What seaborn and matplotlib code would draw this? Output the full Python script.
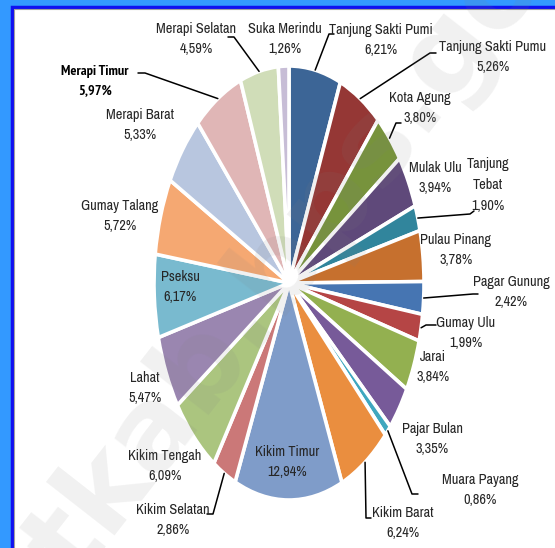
import matplotlib
matplotlib.use("Agg")
import matplotlib.pyplot as plt
from matplotlib import font_manager as fm
import seaborn as sns
import numpy as np
from matplotlib.patches import Rectangle

# ---- data ----
districts = ["Tanjung Sakti Pumi", "Tanjung Sakti Pumu", "Kota Agung", "Mulak Ulu",
             "Tanjung\nTebat", "Pulau Pinang", "Pagar Gunung", "Gumay Ulu", "Jarai",
             "Pajar Bulan", "Muara Payang", "Kikim Barat", "Kikim Timur", "Kikim Selatan",
             "Kikim Tengah", "Lahat", "Pseksu", "Gumay Talang", "Merapi Barat",
             "Merapi Timur", "Merapi Selatan", "Suka Merindu"]
shares = [6.21, 5.26, 3.80, 3.94, 1.90, 3.78, 2.42, 1.99, 3.84, 3.35, 0.86, 6.24,
          12.94, 2.86, 6.09, 5.47, 6.17, 5.72, 5.33, 5.97, 4.59, 1.26]
colors = ["#3C6596", "#953735", "#77933C", "#5F497A", "#31859C", "#C6702E",
          "#4675B2", "#B54545", "#93B050", "#775A99", "#3FA7BF", "#EA8E3F",
          "#7F9CC9", "#CB7878", "#ABC57F", "#9A86B0", "#79BACF", "#F5A872",
          "#B8C6DF", "#E0B6B6", "#D0DDB8", "#C7BDD6"]

# ---- layout (pixel positions of labels and leader elbows) ----
label_pos = [(381, 40), (493, 57), (420, 108), (435, 178), (488, 185), (456, 250),
             (511, 292), (466, 333), (433, 367), (432, 439), (480, 490), (403, 523),
             (287, 462), (173, 520), (165, 466), (145, 388), (180, 287), (120, 216),
             (140, 125), (95, 81), (196, 39), (285, 39)]
leaders = {0: [(329, 34), (334, 34)], 1: [(430, 53), (436, 53)], 2: [(396, 123), (401, 123)],
           4: [(470, 214), (474, 211)], 6: [(473, 294), (478, 294)], 7: [(426, 325), (436, 325)],
           10: [(412, 494), (418, 494)], 11: [(366, 518), (371, 518)],
           13: [(213, 514), (207, 514)], 19: [(145, 73), (138, 73)], 20: [(234, 37), (228, 37)]}

W, H = 555, 548
cx, cy, rx, ry = 289, 283, 135, 217
FS = 10.3

sns.set_theme(style="white")
plt.rcParams["font.family"] = ["Liberation Sans", "DejaVu Sans"]


def pick_font(bold):
    best = None
    for f in fm.fontManager.ttflist:
        nm = f.name + " " + f.fname
        narrow = ("Narrow" in nm or "Condensed" in nm or
                  f.stretch in ("condensed", "semi-condensed", 375, 250))
        if not narrow or f.style != "normal":
            continue
        isbold = (f.weight in ("bold", 700) or (isinstance(f.weight, int) and f.weight >= 600))
        if isbold != bold:
            continue
        score = 0 if "Narrow" in nm else (1 if "Sans" in nm else 2)
        if best is None or score < best[0]:
            best = (score, f.fname)
    return best[1] if best else None


reg_file = pick_font(False)
bold_file = pick_font(True)
if reg_file:
    fp_reg = fm.FontProperties(fname=reg_file, size=FS)
    fp_bold = fm.FontProperties(fname=bold_file, size=FS) if bold_file else \
        fm.FontProperties(fname=reg_file, size=FS, weight="bold")
else:
    fp_reg = fm.FontProperties(family="Liberation Sans", size=8.6)
    fp_bold = fm.FontProperties(family="Liberation Sans", size=8.6, weight="bold")

fig = plt.figure(figsize=(W / 100, H / 100), dpi=100)
fig.patch.set_facecolor("#3399FF")

# frame
ov = fig.add_axes([0, 0, 1, 1])
ov.set_xlim(0, W)
ov.set_ylim(H, 0)
ov.axis("off")
ov.add_patch(Rectangle((12, 7), W + 20, H + 20, facecolor="white", edgecolor="#1010F0",
                       linewidth=2.5, zorder=0))
ov.add_patch(Rectangle((14, 9), W + 20, H + 20, facecolor="none", edgecolor="#A0A0A0",
                       linewidth=0.8, zorder=0))

# pie axes
ax = fig.add_axes([(cx - rx) / W, (H - cy - ry) / H, 2 * rx / W, 2 * ry / H])
pal = sns.color_palette(colors)
ax.pie(shares, colors=pal, startangle=90, counterclock=False, radius=1,
       wedgeprops=dict(edgecolor="white", linewidth=2.6))
ax.set_aspect("auto")
ax.set_xlim(-1, 1)
ax.set_ylim(-1, 1)
ax.axis("off")

# labels
ov2 = fig.add_axes([0, 0, 1, 1])
ov2.set_xlim(0, W)
ov2.set_ylim(H, 0)
ov2.axis("off")
ov2.patch.set_alpha(0)

cum = np.cumsum([0] + shares)
total = cum[-1]
for i, (name, val) in enumerate(zip(districts, shares)):
    txt = f"{name}\n{val:.2f}%".replace(".", ",")
    bold = (name == "Merapi Timur")
    ov2.text(label_pos[i][0], label_pos[i][1], txt, ha="center", va="center",
             fontproperties=fp_bold if bold else fp_reg, linespacing=1.62,
             color="black" if bold else "#262626", zorder=5)
    if i in leaders:
        mid = (cum[i] + val / 2) / total * 2 * np.pi
        sx = cx + rx * np.sin(mid)
        sy = cy - ry * np.cos(mid)
        pts = [(sx, sy)] + leaders[i]
        ov2.plot([p[0] for p in pts], [p[1] for p in pts], color="black", lw=1.1, zorder=4)

# watermark
ov2.text(250, 300, "lahatkab.bps.go.id", rotation=52, ha="center", va="center",
         fontsize=82, fontweight="bold", color="#808080", alpha=0.11,
         family=["DejaVu Sans"], zorder=6)

fig.savefig("out.png", dpi=100, facecolor=fig.get_facecolor())
